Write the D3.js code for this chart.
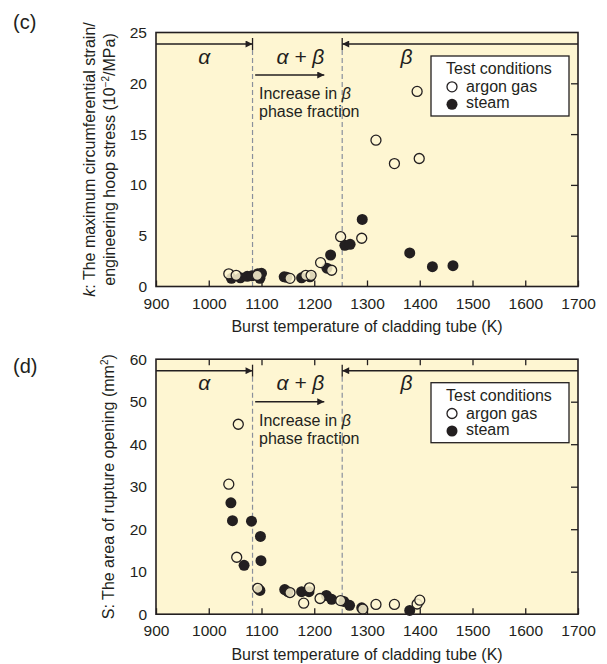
<!DOCTYPE html>
<html>
<head>
<meta charset="utf-8">
<title>Burst temperature vs k and S</title>
<script src="https://cdn.jsdelivr.net/npm/d3@7"></script>
<style>
	body { margin: 0; background: #fff; }
	text { font-family: "Liberation Sans", Arial, sans-serif; fill: #231f20; }
</style>
</head>
<body>
<div id="chart"></div>
<script>
	// x axis (shared)
	const tempTicks = [900, 1000, 1100, 1200, 1300, 1400, 1500, 1600, 1700];
	const phaseBounds = [1083, 1253];   // alpha | alpha+beta | beta
	const xTitle = "Burst temperature of cladding tube (K)";

	// (c) k values
	const kTicks = [0, 5, 10, 15, 20, 25];
	const kArgon = [
		[1038, 1.25], [1052, 1.1], [1092, 1.1], [1154, 0.8], [1184, 1.1], [1194, 1.1],
		[1212, 2.35], [1233, 1.6], [1250, 4.9], [1290, 4.75], [1317, 14.4], [1352, 12.1],
		[1395, 19.2], [1399, 12.6]
	];
	const kSteam = [
		[1043, 0.8], [1060, 0.85], [1073, 1.0], [1082, 1.05], [1093, 1.25], [1097, 0.8],
		[1100, 1.3], [1143, 0.95], [1148, 0.9], [1176, 0.85], [1192, 0.95], [1224, 1.8],
		[1231, 3.1], [1258, 4.05], [1268, 4.15], [1291, 6.6], [1381, 3.3], [1424, 1.95],
		[1463, 2.05]
	];

	// (d) S values
	const sTicks = [0, 10, 20, 30, 40, 50, 60];
	const sArgon = [
		[1038, 30.6], [1053, 13.4], [1056, 44.7], [1093, 6.1], [1154, 5.1], [1180, 2.6],
		[1191, 6.2], [1211, 3.7], [1250, 3.2], [1292, 1.2], [1317, 2.3], [1352, 2.3],
		[1395, 2.4], [1400, 3.3]
	];
	const sSteam = [
		[1042, 26.2], [1045, 22.0], [1067, 11.5], [1081, 21.9], [1097, 5.6], [1098, 18.3],
		[1099, 12.6], [1144, 5.8], [1150, 5.3], [1176, 5.3], [1190, 5.3], [1223, 4.4],
		[1233, 3.5], [1256, 3.0], [1267, 2.1], [1290, 1.5], [1381, 0.9]
	];

	const W = 607, H = 664;
	const left = 156, right = 578;
	const bg = "#fef6d2", ink = "#231f20";

	const svg = d3.select("#chart").append("svg").attr("width", W).attr("height", H);

	const defs = svg.append("defs");
	defs.append("marker").attr("id", "head")
		.attr("viewBox", "0 0 10 10").attr("refX", 10).attr("refY", 5)
		.attr("markerWidth", 8).attr("markerHeight", 7).attr("markerUnits", "userSpaceOnUse")
		.attr("orient", "auto-start-reverse")
		.append("path").attr("d", "M0,0 L10,5 L0,10 Z").attr("fill", ink);

	const x = d3.scaleLinear().domain([900, 1700]).range([left, right]);

	function drawPanel(p) {
		const y = d3.scaleLinear().domain([0, p.yMax]).range([p.bottom, p.top]);
		const g = svg.append("g");

		// background
		g.append("rect").attr("x", left).attr("y", p.top)
			.attr("width", right - left).attr("height", p.bottom - p.top).attr("fill", bg);

		// phase region arrows
		const ay = p.top + 11.5;
		g.append("line").attr("x1", left).attr("x2", x(phaseBounds[0])).attr("y1", ay).attr("y2", ay)
			.attr("stroke", ink).attr("stroke-width", 1.5).attr("marker-end", "url(#head)");
		g.append("line").attr("x1", right).attr("x2", x(phaseBounds[1])).attr("y1", ay).attr("y2", ay)
			.attr("stroke", ink).attr("stroke-width", 1.5).attr("marker-end", "url(#head)");
		phaseBounds.forEach(function(b) {
			g.append("line").attr("x1", x(b)).attr("x2", x(b)).attr("y1", ay - 6).attr("y2", ay + 6)
				.attr("stroke", ink).attr("stroke-width", 1.3);
			g.append("line").attr("x1", x(b)).attr("x2", x(b)).attr("y1", ay + 6).attr("y2", p.bottom)
				.attr("stroke", "#8a909c").attr("stroke-width", 1.2).attr("stroke-dasharray", "5,3");
		});

		// phase labels
		const py = p.top + 31;
		const phase = g.append("g").attr("font-size", 21).attr("font-style", "italic").attr("text-anchor", "middle");
		phase.append("text").attr("x", (left + x(phaseBounds[0])) / 2).attr("y", py).text("α");
		phase.append("text").attr("x", (x(phaseBounds[0]) + x(phaseBounds[1])) / 2 + 3).attr("y", py).text("α + β");
		phase.append("text").attr("x", x(1375)).attr("y", py).text("β");

		// increase in beta arrow + note
		g.append("line").attr("x1", x(1088)).attr("x2", x(1219)).attr("y1", p.top + 42.5).attr("y2", p.top + 42.5)
			.attr("stroke", ink).attr("stroke-width", 1.5).attr("marker-end", "url(#head)");
		const note = g.append("text").attr("font-size", 16);
		note.append("tspan").attr("x", 259).attr("y", p.top + 66.5).text("Increase in ");
		note.append("tspan").attr("font-style", "italic").text("β");
		g.append("text").attr("font-size", 16).attr("x", 259).attr("y", p.top + 84.8).text("phase fraction");

		// points
		g.selectAll(".steam").data(p.steam).enter().append("circle")
			.attr("cx", d => x(d[0])).attr("cy", d => y(d[1])).attr("r", 5.5)
			.attr("fill", ink);
		g.selectAll(".argon").data(p.argon).enter().append("circle")
			.attr("cx", d => x(d[0])).attr("cy", d => y(d[1])).attr("r", 5)
			.attr("fill", bg).attr("fill-opacity", 0.85).attr("stroke", ink).attr("stroke-width", 1.3);

		// legend
		const lg = g.append("g");
		lg.append("rect").attr("x", 431).attr("y", p.top + 23.5).attr("width", 138).attr("height", 60)
			.attr("fill", "#fff").attr("stroke", ink).attr("stroke-width", 1.3);
		lg.append("text").attr("x", 446).attr("y", p.top + 41.8).attr("font-size", 16).text("Test conditions");
		lg.append("circle").attr("cx", 452).attr("cy", p.top + 54.3).attr("r", 5)
			.attr("fill", "#fff").attr("stroke", ink).attr("stroke-width", 1.3);
		lg.append("text").attr("x", 466).attr("y", p.top + 59.3).attr("font-size", 16).text("argon gas");
		lg.append("circle").attr("cx", 452).attr("cy", p.top + 71.8).attr("r", 5.5).attr("fill", ink);
		lg.append("text").attr("x", 466).attr("y", p.top + 75.9).attr("font-size", 16).text("steam");

		// axes
		const xa = g.append("g").attr("transform", "translate(0," + p.bottom + ")")
			.call(d3.axisBottom(x).tickValues(tempTicks).tickSize(-6).tickPadding(11).tickFormat(d3.format("d")));
		xa.select(".domain").remove();
		if (p.topTicks) {
			const xt = g.append("g").attr("transform", "translate(0," + p.top + ")")
				.call(d3.axisTop(x).tickValues(tempTicks.slice(1, -1)).tickSize(-6).tickFormat(""));
			xt.select(".domain").remove();
		}
		const ya = g.append("g").attr("transform", "translate(" + left + ",0)")
			.call(d3.axisLeft(y).tickValues(p.yTicks).tickSize(0).tickPadding(9).tickFormat(d3.format("d")));
		ya.select(".domain").remove();
		const yr = g.append("g").attr("transform", "translate(" + right + ",0)")
			.call(d3.axisRight(y).tickValues(p.yTicks.slice(1, -1)).tickSize(-7).tickFormat(""));
		yr.select(".domain").remove();
		g.selectAll(".tick line").attr("stroke", ink).attr("stroke-width", 1.3);
		g.selectAll(".tick text").attr("font-size", 15.5).attr("fill", ink)
			.attr("font-family", "'Liberation Sans', Arial, sans-serif");

		// frame
		g.append("rect").attr("x", left).attr("y", p.top)
			.attr("width", right - left).attr("height", p.bottom - p.top)
			.attr("fill", "none").attr("stroke", ink).attr("stroke-width", 1.6);

		// titles
		g.append("text").attr("x", (left + right) / 2).attr("y", p.bottom + 45.5)
			.attr("text-anchor", "middle").attr("font-size", 16).text(xTitle);
		g.append("text").attr("x", 13).attr("y", p.labelY).attr("font-size", 20).text(p.label);
		p.yTitle(g, (p.top + p.bottom) / 2);
	}

	drawPanel({
		top: 32.5, bottom: 286.5, yMax: 25, yTicks: kTicks,
		argon: kArgon, steam: kSteam, topTicks: false,
		label: "(c)", labelY: 29,
		yTitle: function(g, cy) {
			const t1 = g.append("text").attr("transform", "translate(95," + cy + ") rotate(-90)")
				.attr("text-anchor", "middle").attr("font-size", 16);
			t1.append("tspan").attr("font-style", "italic").text("k");
			t1.append("tspan").text(": The maximum circumferential strain/");
			const t2 = g.append("text").attr("transform", "translate(115," + cy + ") rotate(-90)")
				.attr("text-anchor", "middle").attr("font-size", 16);
			t2.append("tspan").text("engineering hoop stress (10");
			t2.append("tspan").attr("dy", -6).attr("font-size", 10).text("−2");
			t2.append("tspan").attr("dy", 6).text("/MPa)");
		}
	});

	drawPanel({
		top: 359.2, bottom: 614.2, yMax: 60, yTicks: sTicks,
		argon: sArgon, steam: sSteam, topTicks: true,
		label: "(d)", labelY: 372.5,
		yTitle: function(g, cy) {
			const t = g.append("text").attr("transform", "translate(113.5," + cy + ") rotate(-90)")
				.attr("text-anchor", "middle").attr("font-size", 16);
			t.append("tspan").text("S: The area of rupture opening (mm");
			t.append("tspan").attr("dy", -6).attr("font-size", 10).text("2");
			t.append("tspan").attr("dy", 6).text(")");
		}
	});
</script>
</body>
</html>
